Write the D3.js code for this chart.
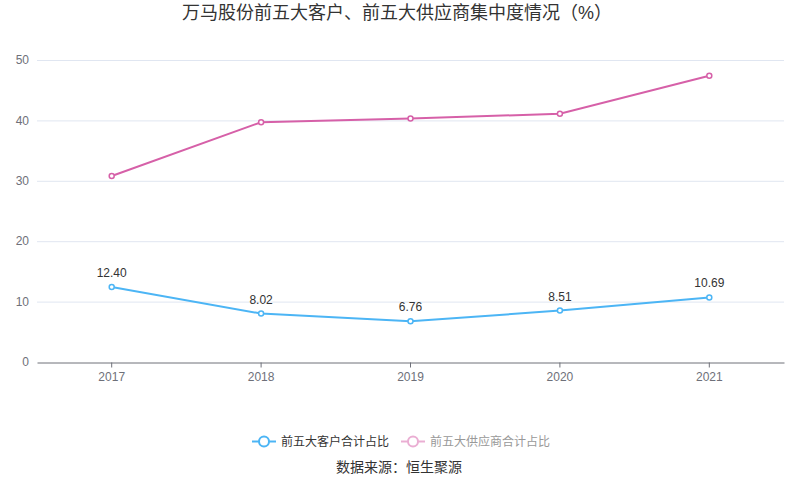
<!DOCTYPE html>
<html>
<head>
<meta charset="utf-8">
<title>万马股份前五大客户、前五大供应商集中度情况</title>
<script src="https://d3js.org/d3.v7.min.js"></script>
<style>
  body { margin: 0; background: #fff; }
  text { font-family: "Liberation Sans", "Noto Sans CJK SC", sans-serif; }
</style>
</head>
<body>
<svg width="800" height="501"></svg>
<script>
const years = ["2017", "2018", "2019", "2020", "2021"]
const customerShare = [12.40, 8.02, 6.76, 8.51, 10.69]
const supplierShare = [30.8, 39.7, 40.3, 41.1, 47.4]
const yTicks = [0, 10, 20, 30, 40, 50]
const seriesNames = ["前五大客户合计占比", "前五大供应商合计占比"]

const svg = d3.select("svg")
const margin = { top: 60, left: 37, right: 16, bottom: 139 }
const width = 800, height = 501
const innerW = width - margin.left - margin.right
const innerH = height - margin.top - margin.bottom

const x = d3.scaleBand().domain(years).range([0, innerW])
const y = d3.scaleLinear().domain([0, 50]).range([innerH, 0])

svg.append("text")
    .attr("x", 397).attr("y", 19)
    .attr("text-anchor", "middle")
    .attr("font-size", 18)
    .attr("fill", "#333")
    .text("万马股份前五大客户、前五大供应商集中度情况（%）")

const g = svg.append("g").attr("transform", `translate(${margin.left},${margin.top})`)

// grid
g.selectAll(".grid").data(yTicks.filter(d => d > 0)).enter().append("line")
    .attr("x1", 0).attr("x2", innerW)
    .attr("y1", d => y(d) + 0.5).attr("y2", d => y(d) + 0.5)
    .attr("stroke", "#e0e6f1")

// y labels
g.selectAll(".ylab").data(yTicks).enter().append("text")
    .attr("x", -8).attr("y", d => y(d))
    .attr("dy", "0.35em")
    .attr("text-anchor", "end")
    .attr("font-size", 12)
    .attr("fill", "#6e7079")
    .text(d => d)

// x axis
const xAxis = g.append("g").attr("transform", `translate(0,${innerH + 0.5})`)
    .call(d3.axisBottom(x).tickSize(5).tickSizeOuter(0))
xAxis.select(".domain").attr("stroke", "#6e7079")
xAxis.selectAll(".tick line").attr("stroke", "#6e7079")
xAxis.selectAll(".tick text")
    .attr("font-size", 12).attr("fill", "#6e7079")
    .attr("font-family", "Liberation Sans, sans-serif")
    .attr("y", 8)
    .attr("dy", "0.9em")

const cx = d => x(d) + x.bandwidth() / 2
const line = d3.line().x(d => cx(d.year)).y(d => y(d.v))

const series = [
    { name: seriesNames[0], color: "#4cb5f5", vals: customerShare, labels: true },
    { name: seriesNames[1], color: "#d660a8", vals: supplierShare, labels: false }
]

series.forEach(s => {
    const pts = years.map((yr, i) => ({ year: yr, v: s.vals[i] }))
    g.append("path").datum(pts)
        .attr("d", line)
        .attr("fill", "none")
        .attr("stroke", s.color)
        .attr("stroke-width", 2)
    g.selectAll(null).data(pts).enter().append("circle")
        .attr("cx", d => cx(d.year)).attr("cy", d => y(d.v))
        .attr("r", 2.5)
        .attr("fill", "#fff")
        .attr("stroke", s.color)
        .attr("stroke-width", 1.5)
    if (s.labels) {
        g.selectAll(null).data(pts).enter().append("text")
            .attr("x", d => cx(d.year)).attr("y", d => y(d.v) - 10)
            .attr("text-anchor", "middle")
            .attr("font-size", 12)
            .attr("fill", "#333")
            .text(d => d.v.toFixed(2))
    }
})

// legend
const legend = [
    { name: seriesNames[0], color: "#4cb5f5", text: "#333", x: 252 },
    { name: seriesNames[1], color: "#eaaed3", text: "#999", x: 401 }
]
legend.forEach(l => {
    const lg = svg.append("g").attr("transform", `translate(${l.x},441)`)
    lg.append("line").attr("x1", 0).attr("x2", 24).attr("y1", 0.5).attr("y2", 0.5)
        .attr("stroke", l.color).attr("stroke-width", 2)
    lg.append("circle").attr("cx", 12).attr("cy", 0.5).attr("r", 5)
        .attr("fill", "#fff").attr("stroke", l.color).attr("stroke-width", 2)
    lg.append("text").attr("x", 29).attr("y", 0.5).attr("dy", "0.35em")
        .attr("font-size", 12).attr("fill", l.text).text(l.name)
})

svg.append("text")
    .attr("x", 399).attr("y", 467)
    .attr("dy", "0.35em")
    .attr("text-anchor", "middle")
    .attr("font-size", 14)
    .attr("fill", "#333")
    .text("数据来源：恒生聚源")
</script>
</body>
</html>
